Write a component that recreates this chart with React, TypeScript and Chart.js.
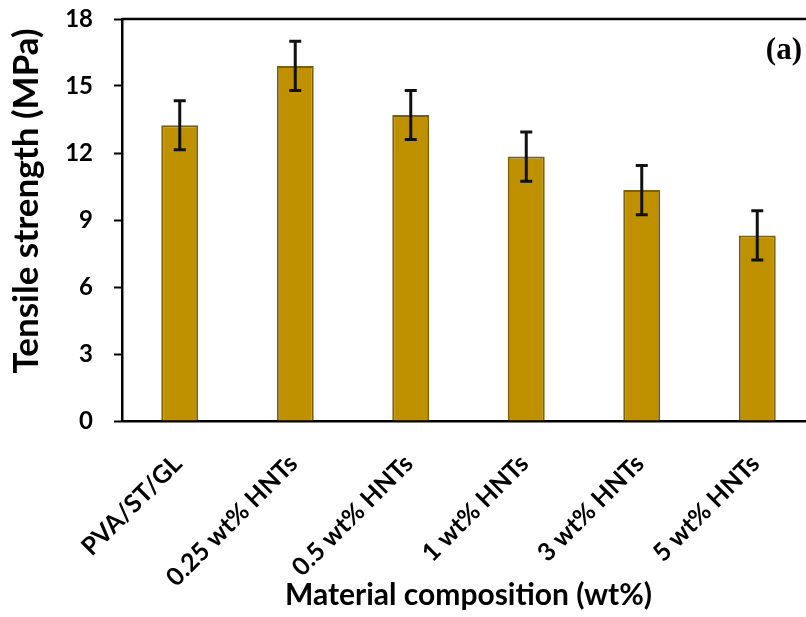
import React, { useEffect, useRef } from "react";
import { Chart, registerables } from "chart.js";

Chart.register(...registerables);

// Tensile strength of the films by filler loading
const categories = [
  "PVA/ST/GL",
  "0.25 wt% HNTs",
  "0.5 wt% HNTs",
  "1 wt% HNTs",
  "3 wt% HNTs",
  "5 wt% HNTs",
];
const strengthMPa = [13.24, 15.9, 13.7, 11.84, 10.34, 8.31];
const strengthErr = [1.1, 1.1, 1.1, 1.1, 1.1, 1.1];
const yTicks = [0, 3, 6, 9, 12, 15, 18];
const yTitle = "Tensile strength (MPa)";
const xTitle = "Material composition (wt%)";
const panelTag = "(a)";

const FONT = "Lato, 'Open Sans', sans-serif";

const errorBarPlugin = {
  id: "errorBars",
  afterDatasetsDraw(chart: any) {
    const meta = chart.getDatasetMeta(0);
    const y = chart.scales.y;
    const ctx = chart.ctx;
    ctx.save();
    ctx.strokeStyle = "#111111";
    ctx.lineWidth = 3;
    meta.data.forEach((bar: any, i: number) => {
      const top = y.getPixelForValue(strengthMPa[i] + strengthErr[i]);
      const bot = y.getPixelForValue(strengthMPa[i] - strengthErr[i]);
      const cap = 6;
      ctx.beginPath();
      ctx.moveTo(bar.x, top);
      ctx.lineTo(bar.x, bot);
      ctx.moveTo(bar.x - cap, top);
      ctx.lineTo(bar.x + cap, top);
      ctx.moveTo(bar.x - cap, bot);
      ctx.lineTo(bar.x + cap, bot);
      ctx.stroke();
    });
    ctx.restore();
  },
};

// Top frame line, rotated value-axis title (sits a little above the plot's middle) and panel tag
const frameAndTagPlugin = {
  id: "frameAndTag",
  afterDraw(chart: any) {
    const { ctx, chartArea } = chart;
    ctx.save();
    ctx.strokeStyle = "#000000";
    ctx.lineWidth = 2.5;
    ctx.beginPath();
    ctx.moveTo(chartArea.left, chartArea.top);
    ctx.lineTo(chartArea.right, chartArea.top);
    ctx.stroke();

    ctx.fillStyle = "#000000";
    ctx.save();
    ctx.translate(27, (chartArea.top + chartArea.bottom) / 2 - 19);
    ctx.rotate(-Math.PI / 2);
    ctx.font = `bold 35px ${FONT}`;
    ctx.textAlign = "center";
    ctx.textBaseline = "middle";
    ctx.fillText(yTitle, 0, 0);
    ctx.restore();

    ctx.font = "bold 31px 'Liberation Serif', 'Times New Roman', serif";
    ctx.textAlign = "right";
    ctx.textBaseline = "middle";
    ctx.fillText(panelTag, 802, 51);
    ctx.restore();
  },
};

export default function App() {
  const canvasRef = useRef<HTMLCanvasElement | null>(null);

  useEffect(() => {
    if (!canvasRef.current) return;
    const chart = new Chart(canvasRef.current, {
      type: "bar",
      data: {
        labels: categories,
        datasets: [
          {
            data: strengthMPa,
            backgroundColor: "#BF9000",
            borderColor: "#7F6000",
            borderWidth: 2,
            barPercentage: 0.32,
            categoryPercentage: 1,
          },
        ],
      },
      options: {
        responsive: false,
        animation: false,
        layout: { padding: { left: 0, top: 19, right: 15, bottom: 0 } },
        plugins: {
          legend: { display: false },
          tooltip: { enabled: false },
        },
        scales: {
          x: {
            grid: { display: false, drawTicks: false },
            border: { display: true, color: "#000000", width: 2.5 },
            ticks: {
              color: "#000000",
              font: { family: FONT, size: 25, weight: "bold" },
              minRotation: 45,
              maxRotation: 45,
              padding: 28,
              labelOffset: -2,
            },
            title: {
              display: true,
              text: xTitle,
              color: "#000000",
              font: { family: FONT, size: 30, weight: "bold" },
              padding: { top: 0, bottom: 4 },
            },
            afterFit(scale: any) {
              scale.height = 196;
              scale.paddingLeft = 0;
              scale.paddingRight = 0;
            },
          },
          y: {
            min: 0,
            max: 18,
            afterBuildTicks(scale: any) {
              scale.ticks = yTicks.map((v) => ({ value: v }));
            },
            grid: {
              drawOnChartArea: false,
              drawTicks: true,
              tickLength: 8,
              tickColor: "#000000",
              tickWidth: 2,
            },
            border: { display: true, color: "#000000", width: 2.5 },
            ticks: {
              color: "#000000",
              font: { family: FONT, size: 24, weight: "bold" },
              padding: 21,
            },
            afterFit(scale: any) {
              scale.width = 122;
              scale.paddingTop = 0;
              scale.paddingBottom = 0;
            },
          },
        },
      },
      plugins: [errorBarPlugin, frameAndTagPlugin],
    });
    return () => chart.destroy();
  }, []);

  return (
    <div
      style={{
        position: "fixed",
        left: 0,
        top: 0,
        width: 806,
        height: 617,
        overflow: "hidden",
        background: "#ffffff",
      }}
    >
      <canvas ref={canvasRef} width={830} height={617} style={{ display: "block" }} />
    </div>
  );
}
